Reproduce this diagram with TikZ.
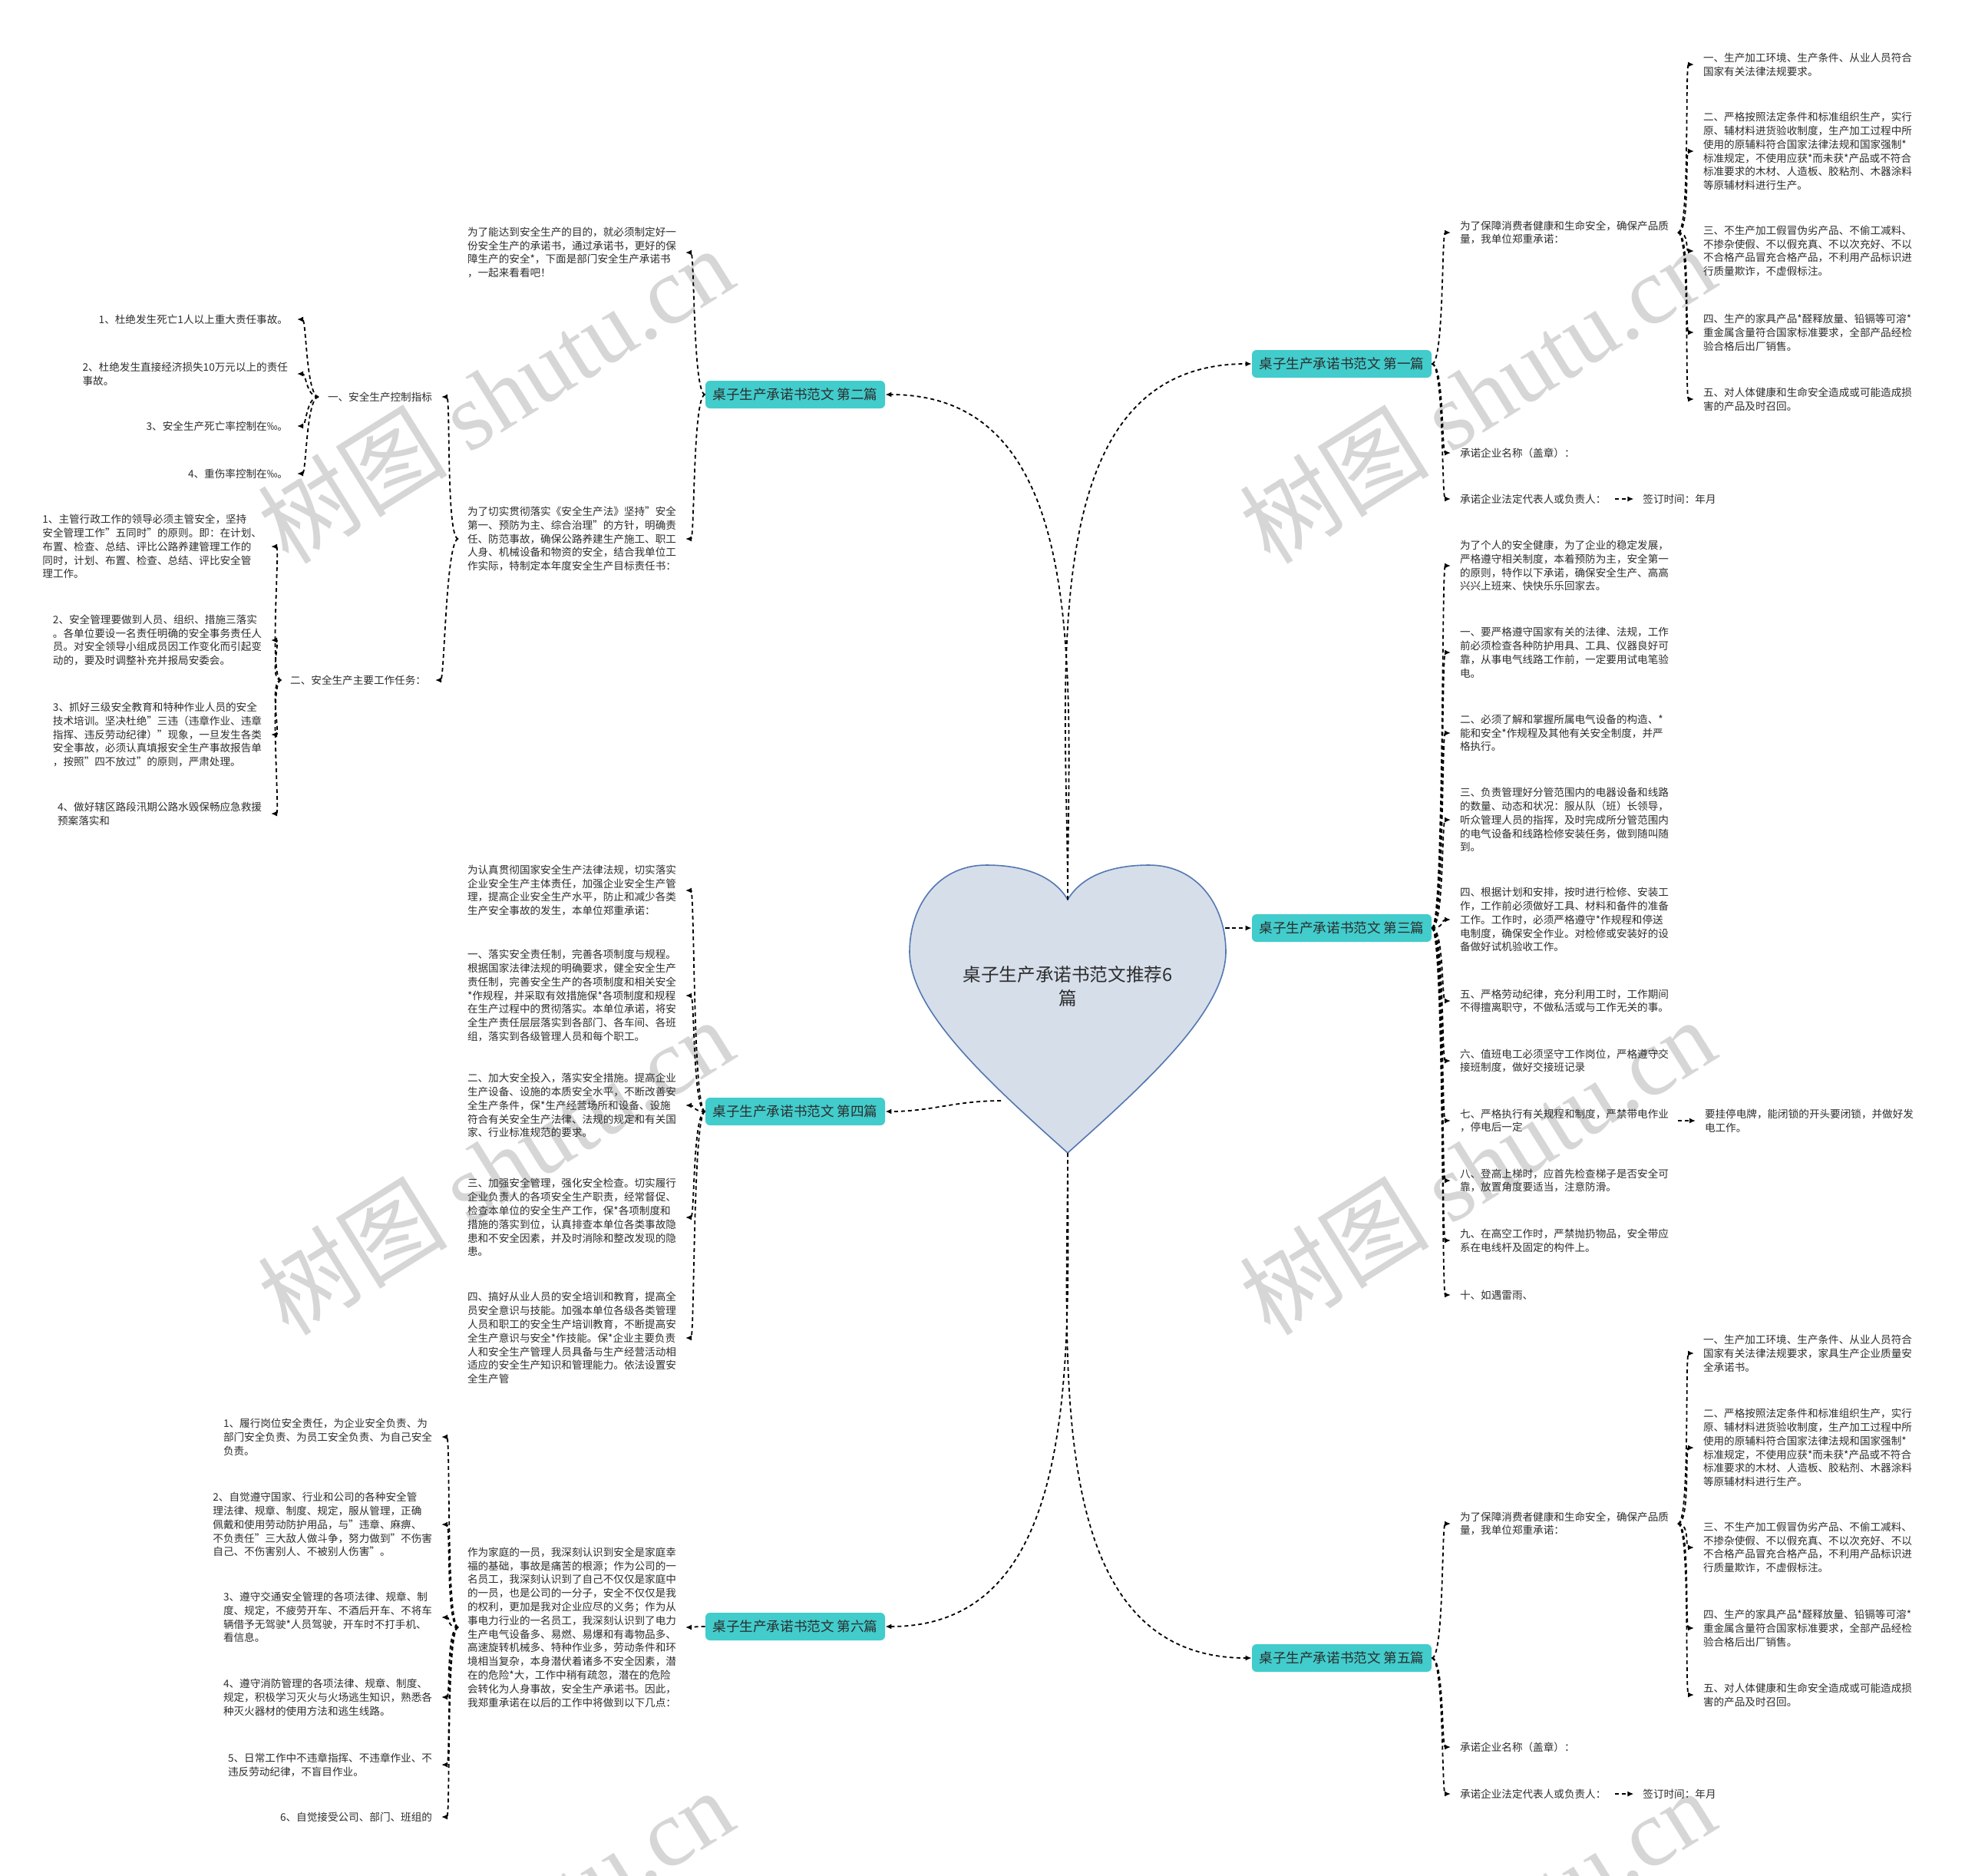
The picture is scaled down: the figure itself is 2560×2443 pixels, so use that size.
\documentclass[tikz,border=0pt]{standalone}
\usepackage{fontspec}
\setmainfont{Noto Sans CJK SC}
\newfontfamily\wmlatin{Liberation Serif}
\usepackage{xcolor}
\usepackage{tikz}
\usetikzlibrary{arrows.meta,positioning}
\definecolor{heartfill}{RGB}{214,222,234}
\definecolor{heartline}{RGB}{84,120,176}
\definecolor{pianteal}{RGB}{66,204,204}
\definecolor{inkgray}{RGB}{45,45,45}
\definecolor{wmgray}{RGB}{214,214,214}
\newcommand{\leaffont}{\fontsize{6.8pt}{8.9pt}\selectfont}
\newcommand{\pianfont}{\fontsize{8.8pt}{10pt}\selectfont}
\newcommand{\titlefont}{\fontsize{11.8pt}{15.5pt}\selectfont}
\tikzset{
	link/.style={line width=0.9pt, dash pattern=on 2.5pt off 2pt, -{Latex[length=4pt,width=3.5pt]}},
	goleft/.style={out=180, in=0, out distance=8pt, in distance=6pt},
	goright/.style={out=0, in=180, out distance=8pt, in distance=6pt},
	pian/.style={fill=pianteal, rounded corners=3pt, font=\pianfont, text=inkgray, minimum width=117pt, minimum height=18pt, inner sep=2pt},
	leaf/.style={font=\leaffont, text=inkgray, align=left, inner sep=0pt, outer sep=6pt},
	watermark/.style={text=wmgray, rotate=32, inner sep=0pt, font=\fontsize{62pt}{62pt}\selectfont}
}

\begin{document}
\begin{tikzpicture}[x=0.5pt, y=-0.5pt]
	\path[fill=white, use as bounding box] (0,0) rectangle (2560,2443);
	\begin{scope}
		\clip (0,0) rectangle (2560,2443);
		\node[watermark] (wm1) at (645,514) {树图 {\wmlatin shutu.cn}};
		\node[watermark] (wm2) at (1924,514) {树图 {\wmlatin shutu.cn}};
		\node[watermark] (wm3) at (645,1519) {树图 {\wmlatin shutu.cn}};
		\node[watermark] (wm4) at (1924,1519) {树图 {\wmlatin shutu.cn}};
		\node[watermark] (wm5) at (645,2523) {树图 {\wmlatin shutu.cn}};
		\node[watermark] (wm6) at (1924,2523) {树图 {\wmlatin shutu.cn}};
	\end{scope}
	
	\draw[heartline, fill=heartfill, line width=0.8pt] (1391,1172) .. controls (1410,1140) and (1450,1127) .. (1497,1127) .. controls (1560,1127) and (1597,1180) .. (1597,1240) .. controls (1597,1320) and (1482,1420) .. (1391,1502) .. controls (1300,1420) and (1185,1320) .. (1185,1240) .. controls (1185,1180) and (1222,1127) .. (1285,1127) .. controls (1332,1127) and (1372,1140) .. cycle;
	\coordinate (top) at (1391,1172);
	\coordinate (tip) at (1391,1502);
	\coordinate (hr) at (1596,1209);
	\coordinate (hl) at (1304,1434);
	\node[font=\titlefont, text=inkgray, align=center] (root) at (1391,1285) {桌子生产承诺书范文推荐6\\篇};
	
	\node[pian] (p1) at (1748,474) {桌子生产承诺书范文 第一篇};
	\node[pian] (p2) at (1036,514) {桌子生产承诺书范文 第二篇};
	\node[pian] (p3) at (1748,1209) {桌子生产承诺书范文 第三篇};
	\node[pian] (p4) at (1036,1448) {桌子生产承诺书范文 第四篇};
	\node[pian] (p5) at (1748,2160) {桌子生产承诺书范文 第五篇};
	\node[pian] (p6) at (1036,2119) {桌子生产承诺书范文 第六篇};
	
	\draw[link] (top) to[out=90, in=180] (p1);
	\draw[link] (top) to[out=90, in=0] (p2);
	\draw[link] (hr) to[out=0, in=180] (p3);
	\draw[link] (hl) to[out=180, in=0] (p4);
	\draw[link] (tip) to[out=-90, in=180] (p5);
	\draw[link] (tip) to[out=-90, in=0] (p6);
	
	\node[leaf, anchor=west] (p1a) at (1890,303) {为了保障消费者健康和生命安全，确保产品质\\量，我单位郑重承诺：};
	\node[leaf, anchor=west] (p1b) at (1890,590) {承诺企业名称（盖章）：};
	\node[leaf, anchor=west] (p1c) at (1890,650) {承诺企业法定代表人或负责人：};
	\node[leaf, right=12pt of p1c] (p1d) {签订时间：年月};
	\node[leaf, anchor=west] (p1a1) at (2207,84) {一、生产加工环境、生产条件、从业人员符合\\国家有关法律法规要求。};
	\node[leaf, anchor=west] (p1a2) at (2207,197) {二、严格按照法定条件和标准组织生产，实行\\原、辅材料进货验收制度，生产加工过程中所\\使用的原辅料符合国家法律法规和国家强制*\\标准规定，不使用应获*而未获*产品或不符合\\标准要求的木材、人造板、胶粘剂、木器涂料\\等原辅材料进行生产。};
	\node[leaf, anchor=west] (p1a3) at (2207,327) {三、不生产加工假冒伪劣产品、不偷工减料、\\不掺杂使假、不以假充真、不以次充好、不以\\不合格产品冒充合格产品，不利用产品标识进\\行质量欺诈，不虚假标注。};
	\node[leaf, anchor=west] (p1a4) at (2207,433) {四、生产的家具产品*醛释放量、铅镉等可溶*\\重金属含量符合国家标准要求，全部产品经检\\验合格后出厂销售。};
	\node[leaf, anchor=west] (p1a5) at (2207,520) {五、对人体健康和生命安全造成或可能造成损\\害的产品及时召回。};
	\draw[link] (p1) to[goright] (p1a);
	\draw[link] (p1) to[goright] (p1b);
	\draw[link] (p1) to[goright] (p1c);
	\draw[link] (p1c) -- (p1d);
	\draw[link] (p1a) to[goright] (p1a1);
	\draw[link] (p1a) to[goright] (p1a2);
	\draw[link] (p1a) to[goright] (p1a3);
	\draw[link] (p1a) to[goright] (p1a4);
	\draw[link] (p1a) to[goright] (p1a5);
	
	\node[leaf, anchor=east] (p2a) at (893,329) {为了能达到安全生产的目的，就必须制定好一\\份安全生产的承诺书，通过承诺书，更好的保\\障生产的安全*，下面是部门安全生产承诺书\\，一起来看看吧！};
	\node[leaf, anchor=east] (p2b) at (893,702) {为了切实贯彻落实《安全生产法》坚持"安全\\第一、预防为主、综合治理"的方针，明确责\\任、防范事故，确保公路养建生产施工、职工\\人身、机械设备和物资的安全，结合我单位工\\作实际，特制定本年度安全生产目标责任书：};
	\node[leaf, anchor=east] (p2b1) at (575,517) {一、安全生产控制指标};
	\node[leaf, anchor=east] (p2b2) at (567,886) {二、安全生产主要工作任务：};
	\node[leaf, anchor=east] (p2b1a) at (387,416) {1、杜绝发生死亡1人以上重大责任事故。};
	\node[leaf, anchor=east] (p2b1b) at (387,487) {2、杜绝发生直接经济损失10万元以上的责任\\事故。};
	\node[leaf, anchor=east] (p2b1c) at (387,555) {3、安全生产死亡率控制在‰。};
	\node[leaf, anchor=east] (p2b1d) at (387,617) {4、重伤率控制在‰。};
	\node[leaf, anchor=east] (p2b2a) at (353,712) {1、主管行政工作的领导必须主管安全，坚持\\安全管理工作"五同时"的原则。即：在计划、\\布置、检查、总结、评比公路养建管理工作的\\同时，计划、布置、检查、总结、评比安全管\\理工作。};
	\node[leaf, anchor=east] (p2b2b) at (353,834) {2、安全管理要做到人员、组织、措施三落实\\。各单位要设一名责任明确的安全事务责任人\\员。对安全领导小组成员因工作变化而引起变\\动的，要及时调整补充并报局安委会。};
	\node[leaf, anchor=east] (p2b2c) at (353,957) {3、抓好三级安全教育和特种作业人员的安全\\技术培训。坚决杜绝"三违（违章作业、违章\\指挥、违反劳动纪律）"现象，一旦发生各类\\安全事故，必须认真填报安全生产事故报告单\\，按照"四不放过"的原则，严肃处理。};
	\node[leaf, anchor=east] (p2b2d) at (353,1060) {4、做好辖区路段汛期公路水毁保畅应急救援\\预案落实和};
	\draw[link] (p2) to[goleft] (p2a);
	\draw[link] (p2) to[goleft] (p2b);
	\draw[link] (p2b) to[goleft] (p2b1);
	\draw[link] (p2b) to[goleft] (p2b2);
	\draw[link] (p2b1) to[goleft] (p2b1a);
	\draw[link] (p2b1) to[goleft] (p2b1b);
	\draw[link] (p2b1) to[goleft] (p2b1c);
	\draw[link] (p2b1) to[goleft] (p2b1d);
	\draw[link] (p2b2) to[goleft] (p2b2a);
	\draw[link] (p2b2) to[goleft] (p2b2b);
	\draw[link] (p2b2) to[goleft] (p2b2c);
	\draw[link] (p2b2) to[goleft] (p2b2d);
	
	\node[leaf, anchor=west] (p3a) at (1890,737) {为了个人的安全健康，为了企业的稳定发展，\\严格遵守相关制度，本着预防为主，安全第一\\的原则，特作以下承诺，确保安全生产、高高\\兴兴上班来、快快乐乐回家去。};
	\node[leaf, anchor=west] (p3b) at (1890,850) {一、要严格遵守国家有关的法律、法规，工作\\前必须检查各种防护用具、工具、仪器良好可\\靠，从事电气线路工作前，一定要用试电笔验\\电。};
	\node[leaf, anchor=west] (p3c) at (1890,955) {二、必须了解和掌握所属电气设备的构造、*\\能和安全*作规程及其他有关安全制度，并严\\格执行。};
	\node[leaf, anchor=west] (p3d) at (1890,1068) {三、负责管理好分管范围内的电器设备和线路\\的数量、动态和状况：服从队（班）长领导，\\听众管理人员的指挥，及时完成所分管范围内\\的电气设备和线路检修安装任务，做到随叫随\\到。};
	\node[leaf, anchor=west] (p3e) at (1890,1198) {四、根据计划和安排，按时进行检修、安装工\\作，工作前必须做好工具、材料和备件的准备\\工作。工作时，必须严格遵守*作规程和停送\\电制度，确保安全作业。对检修或安装好的设\\备做好试机验收工作。};
	\node[leaf, anchor=west] (p3f) at (1890,1304) {五、严格劳动纪律，充分利用工时，工作期间\\不得擅离职守，不做私活或与工作无关的事。};
	\node[leaf, anchor=west] (p3g) at (1890,1382) {六、值班电工必须坚守工作岗位，严格遵守交\\接班制度，做好交接班记录};
	\node[leaf, anchor=west] (p3h) at (1890,1460) {七、严格执行有关规程和制度，严禁带电作业\\，停电后一定};
	\node[leaf, right=11.5pt of p3h] (p3h1) {要挂停电牌，能闭锁的开头要闭锁，并做好发\\电工作。};
	\node[leaf, anchor=west] (p3i) at (1890,1538) {八、登高上梯时，应首先检查梯子是否安全可\\靠，放置角度要适当，注意防滑。};
	\node[leaf, anchor=west] (p3j) at (1890,1616) {九、在高空工作时，严禁抛扔物品，安全带应\\系在电线杆及固定的构件上。};
	\node[leaf, anchor=west] (p3k) at (1890,1687) {十、如遇雷雨、};
	\draw[link] (p3) to[goright] (p3a);
	\draw[link] (p3) to[goright] (p3b);
	\draw[link] (p3) to[goright] (p3c);
	\draw[link] (p3) to[goright] (p3d);
	\draw[link] (p3) to[goright] (p3e);
	\draw[link] (p3) to[goright] (p3f);
	\draw[link] (p3) to[goright] (p3g);
	\draw[link] (p3) to[goright] (p3h);
	\draw[link] (p3h) -- (p3h1);
	\draw[link] (p3) to[goright] (p3i);
	\draw[link] (p3) to[goright] (p3j);
	\draw[link] (p3) to[goright] (p3k);
	
	\node[leaf, anchor=east] (p4a) at (893,1160) {为认真贯彻国家安全生产法律法规，切实落实\\企业安全生产主体责任，加强企业安全生产管\\理，提高企业安全生产水平，防止和减少各类\\生产安全事故的发生，本单位郑重承诺：};
	\node[leaf, anchor=east] (p4b) at (893,1297) {一、落实安全责任制，完善各项制度与规程。\\根据国家法律法规的明确要求，健全安全生产\\责任制，完善安全生产的各项制度和相关安全\\{}*作规程，并采取有效措施保*各项制度和规程\\在生产过程中的贯彻落实。本单位承诺，将安\\全生产责任层层落实到各部门、各车间、各班\\组，落实到各级管理人员和每个职工。};
	\node[leaf, anchor=east] (p4c) at (893,1440) {二、加大安全投入，落实安全措施。提高企业\\生产设备、设施的本质安全水平，不断改善安\\全生产条件，保*生产经营场所和设备、设施\\符合有关安全生产法律、法规的规定和有关国\\家、行业标准规范的要求。};
	\node[leaf, anchor=east] (p4d) at (893,1586) {三、加强安全管理，强化安全检查。切实履行\\企业负责人的各项安全生产职责，经常督促、\\检查本单位的安全生产工作，保*各项制度和\\措施的落实到位，认真排查本单位各类事故隐\\患和不安全因素，并及时消除和整改发现的隐\\患。};
	\node[leaf, anchor=east] (p4e) at (893,1743) {四、搞好从业人员的安全培训和教育，提高全\\员安全意识与技能。加强本单位各级各类管理\\人员和职工的安全生产培训教育，不断提高安\\全生产意识与安全*作技能。保*企业主要负责\\人和安全生产管理人员具备与生产经营活动相\\适应的安全生产知识和管理能力。依法设置安\\全生产管};
	\draw[link] (p4) to[goleft] (p4a);
	\draw[link] (p4) to[goleft] (p4b);
	\draw[link] (p4) to[goleft] (p4c);
	\draw[link] (p4) to[goleft] (p4d);
	\draw[link] (p4) to[goleft] (p4e);
	
	\node[leaf, anchor=west] (p5a) at (1890,1985) {为了保障消费者健康和生命安全，确保产品质\\量，我单位郑重承诺：};
	\node[leaf, anchor=west] (p5b) at (1890,2276) {承诺企业名称（盖章）：};
	\node[leaf, anchor=west] (p5c) at (1890,2337) {承诺企业法定代表人或负责人：};
	\node[leaf, right=12pt of p5c] (p5d) {签订时间：年月};
	\node[leaf, anchor=west] (p5a1) at (2207,1763) {一、生产加工环境、生产条件、从业人员符合\\国家有关法律法规要求，家具生产企业质量安\\全承诺书。};
	\node[leaf, anchor=west] (p5a2) at (2207,1886) {二、严格按照法定条件和标准组织生产，实行\\原、辅材料进货验收制度，生产加工过程中所\\使用的原辅料符合国家法律法规和国家强制*\\标准规定，不使用应获*而未获*产品或不符合\\标准要求的木材、人造板、胶粘剂、木器涂料\\等原辅材料进行生产。};
	\node[leaf, anchor=west] (p5a3) at (2207,2016) {三、不生产加工假冒伪劣产品、不偷工减料、\\不掺杂使假、不以假充真、不以次充好、不以\\不合格产品冒充合格产品，不利用产品标识进\\行质量欺诈，不虚假标注。};
	\node[leaf, anchor=west] (p5a4) at (2207,2121) {四、生产的家具产品*醛释放量、铅镉等可溶*\\重金属含量符合国家标准要求，全部产品经检\\验合格后出厂销售。};
	\node[leaf, anchor=west] (p5a5) at (2207,2208) {五、对人体健康和生命安全造成或可能造成损\\害的产品及时召回。};
	\draw[link] (p5) to[goright] (p5a);
	\draw[link] (p5) to[goright] (p5b);
	\draw[link] (p5) to[goright] (p5c);
	\draw[link] (p5c) -- (p5d);
	\draw[link] (p5a) to[goright] (p5a1);
	\draw[link] (p5a) to[goright] (p5a2);
	\draw[link] (p5a) to[goright] (p5a3);
	\draw[link] (p5a) to[goright] (p5a4);
	\draw[link] (p5a) to[goright] (p5a5);
	
	\node[leaf, anchor=east] (p6a) at (893,2120) {作为家庭的一员，我深刻认识到安全是家庭幸\\福的基础，事故是痛苦的根源；作为公司的一\\名员工，我深刻认识到了自己不仅仅是家庭中\\的一员，也是公司的一分子，安全不仅仅是我\\的权利，更加是我对企业应尽的义务；作为从\\事电力行业的一名员工，我深刻认识到了电力\\生产电气设备多、易燃、易爆和有毒物品多、\\高速旋转机械多、特种作业多，劳动条件和环\\境相当复杂，本身潜伏着诸多不安全因素，潜\\在的危险*大，工作中稍有疏忽，潜在的危险\\会转化为人身事故，安全生产承诺书。因此，\\我郑重承诺在以后的工作中将做到以下几点：};
	\node[leaf, anchor=east] (p6a1) at (575,1872) {1、履行岗位安全责任，为企业安全负责、为\\部门安全负责、为员工安全负责、为自己安全\\负责。};
	\node[leaf, anchor=east] (p6a2) at (575,1986) {2、自觉遵守国家、行业和公司的各种安全管\\理法律、规章、制度、规定，服从管理，正确\\佩戴和使用劳动防护用品，与"违章、麻痹、\\不负责任"三大敌人做斗争，努力做到"不伤害\\自己、不伤害别人、不被别人伤害"。};
	\node[leaf, anchor=east] (p6a3) at (575,2107) {3、遵守交通安全管理的各项法律、规章、制\\度、规定，不疲劳开车、不酒后开车、不将车\\辆借予无驾驶*人员驾驶，开车时不打手机、\\看信息。};
	\node[leaf, anchor=east] (p6a4) at (575,2211) {4、遵守消防管理的各项法律、规章、制度、\\规定，积极学习灭火与火场逃生知识，熟悉各\\种灭火器材的使用方法和逃生线路。};
	\node[leaf, anchor=east] (p6a5) at (575,2299) {5、日常工作中不违章指挥、不违章作业、不\\违反劳动纪律，不盲目作业。};
	\node[leaf, anchor=east] (p6a6) at (575,2367) {6、自觉接受公司、部门、班组的};
	\draw[link] (p6) to[goleft] (p6a);
	\draw[link] (p6a) to[goleft] (p6a1);
	\draw[link] (p6a) to[goleft] (p6a2);
	\draw[link] (p6a) to[goleft] (p6a3);
	\draw[link] (p6a) to[goleft] (p6a4);
	\draw[link] (p6a) to[goleft] (p6a5);
	\draw[link] (p6a) to[goleft] (p6a6);
\end{tikzpicture}
\end{document}
